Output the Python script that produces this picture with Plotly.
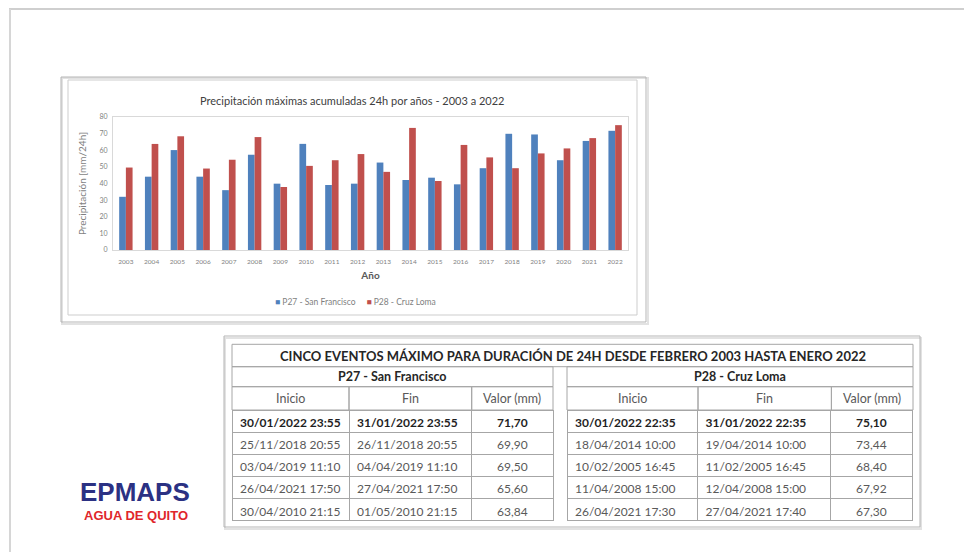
import plotly.graph_objects as go

# ---------------- data ----------------
years = ["2003", "2004", "2005", "2006", "2007", "2008", "2009", "2010", "2011", "2012",
         "2013", "2014", "2015", "2016", "2017", "2018", "2019", "2020", "2021", "2022"]
san_francisco = [32.0, 44.1, 60.1, 44.1, 36.0, 57.3, 39.9, 63.84, 39.1, 39.9,
                 52.6, 42.1, 43.5, 39.5, 49.2, 69.9, 69.5, 54.0, 65.6, 71.7]
cruz_loma = [49.6, 63.8, 68.4, 49.0, 54.3, 67.92, 37.9, 50.6, 54.0, 57.7,
             47.0, 73.44, 41.5, 63.2, 55.7, 49.2, 58.1, 61.1, 67.3, 75.1]
series_names = ["P27 - San Francisco", "P28 - Cruz Loma"]

chart_title = "Precipitación máximas acumuladas 24h por años - 2003 a 2022"
x_title = "Año"
y_title = "Precipitación [mm/24h]"

table_title = "CINCO EVENTOS MÁXIMO PARA DURACIÓN DE 24H DESDE FEBRERO 2003 HASTA ENERO 2022"
col_headers = ["Inicio", "Fin", "Valor (mm)"]
sf_inicio = ["30/01/2022 23:55", "25/11/2018 20:55", "03/04/2019 11:10", "26/04/2021 17:50", "30/04/2010 21:15"]
sf_fin = ["31/01/2022 23:55", "26/11/2018 20:55", "04/04/2019 11:10", "27/04/2021 17:50", "01/05/2010 21:15"]
sf_valor = ["71,70", "69,90", "69,50", "65,60", "63,84"]
cl_inicio = ["30/01/2022 22:35", "18/04/2014 10:00", "10/02/2005 16:45", "11/04/2008 15:00", "26/04/2021 17:30"]
cl_fin = ["31/01/2022 22:35", "19/04/2014 10:00", "11/02/2005 16:45", "12/04/2008 15:00", "27/04/2021 17:40"]
cl_valor = ["75,10", "73,44", "68,40", "67,92", "67,30"]

logo_main = "EPMAPS"
logo_sub = "AGUA DE QUITO"

# ---------------- styles ----------------
# page body has an 8px margin: figure occupies screen (8..972, 8..552)
OX, OY = 8, 8
W, H = 972 - OX, 552 - OY
FONT = "Lato"
colors = ["#4F81BD", "#C0504D"]
GRAY_TXT = "#595959"
LINE = "#A6A6A6"


def px(x):
    return (x - OX) / W


def py(y):
    return 1 - (y - OY) / H


fig = go.Figure()

# ---------------- bar chart ----------------
for name, vals, c in zip(series_names, [san_francisco, cruz_loma], colors):
    fig.add_trace(go.Bar(x=years, y=vals, name=name, marker=dict(color=c, line=dict(width=0)),
                         showlegend=False, xaxis="x", yaxis="y"))


# ---------------- shape / annotation helpers ----------------
def rect(x0, y0, x1, y1, color, width, layer="above"):
    return dict(type="rect", xref="paper", yref="paper", x0=px(x0), x1=px(x1), y0=py(y1), y1=py(y0),
                line=dict(color=color, width=width), fillcolor="rgba(0,0,0,0)", layer=layer)


def hline(x0, x1, y, color, width):
    return dict(type="line", xref="paper", yref="paper", x0=px(x0), x1=px(x1), y0=py(y), y1=py(y),
                line=dict(color=color, width=width))


def vline(x, y0, y1, color, width):
    return dict(type="line", xref="paper", yref="paper", x0=px(x), x1=px(x), y0=py(y0), y1=py(y1),
                line=dict(color=color, width=width))


def ann(text, x, y, size, color, family=FONT):
    return dict(text=text, x=px(x), y=py(y), xref="paper", yref="paper", showarrow=False,
                xanchor="center", yanchor="middle", font=dict(family=family, size=size, color=color))


shapes = [
    # slide frame
    hline(9, 980, 9, "#CFCFCF", 2),
    vline(10, 9, 552, "#D6D6D6", 2),
    # chart panel (shadow, outer frame, inner frame)
    rect(62, 78, 648, 324, "#E2E2E2", 2, "below"),
    rect(61, 77, 646, 322, "#B5B5B5", 1, "below"),
    rect(68, 80, 637, 315, "#CDCDCD", 1, "below"),
    # table panel
    rect(225, 338, 921, 529, "#E2E2E2", 2, "below"),
    rect(224, 336, 920, 527, "#B5B5B5", 1, "below"),
    # merged cells: title row and station rows
    rect(232, 344.3, 913, 366.7, LINE, 1),
    rect(232, 366.7, 553, 386.7, LINE, 1),
    rect(567, 366.7, 913, 386.7, LINE, 1),
]

annotations = [
    ann(chart_title, 352, 100.5, 11, "#404040"),
    ann("     ".join("<span style='color:%s'>■</span> %s" % (c, n) for c, n in zip(colors, series_names)),
        355, 302, 8.5, "#7F7F7F"),
    ann("<b>%s</b>" % table_title, 572.5, 355.5, 13, "#262626"),
    ann("<b>%s</b>" % series_names[0], 392.5, 376.7, 12.5, "#262626"),
    ann("<b>%s</b>" % series_names[1], 740, 376.7, 12.5, "#262626"),
    ann("<b>%s</b>" % logo_main, 135, 492, 26, "#2B3183", "Liberation Sans"),
    ann("<b>%s</b>" % logo_sub, 136, 515.5, 13, "#E0262B", "Liberation Sans"),
]


# ---------------- tables ----------------
def nb(v):
    # non-breaking spaces keep each date/time on one line
    return v.replace(" ", "\u00a0")


HDR_TOP, HDR_BOT = 386.7, 410.0


def bold_font(size, color):
    f = dict(family=FONT, size=size, color=color, weight="bold")
    try:
        go.table.Header(font=f)
    except Exception:
        f.pop("weight")
    return f


def station_table(cols, x0, widths):
    x1 = x0 + sum(widths)
    # column-header row (Inicio / Fin / Valor)
    xs = x0
    for label, w in zip(col_headers, widths):
        shapes.append(rect(xs, HDR_TOP, xs + w, HDR_BOT, LINE, 1))
        annotations.append(ann(label, xs + w / 2, (HDR_TOP + HDR_BOT) / 2 + 0.5, 12.5, GRAY_TXT))
        xs += w
    # first (maximum) event as bold table header row, remaining events as cells
    return go.Table(
        domain=dict(x=[px(x0), px(x1)], y=[py(526), py(HDR_BOT)]),
        columnwidth=widths,
        header=dict(values=[nb(c[0]) for c in cols], height=22,
                    align=["left", "left", "center"],
                    font=bold_font(12, "#1F1F1F"),
                    fill=dict(color="white"), line=dict(color=LINE, width=1)),
        cells=dict(values=[[nb(v) for v in c[1:]] for c in cols], height=22.2,
                   align=["left", "left", "center"],
                   font=dict(family=FONT, size=12, color=GRAY_TXT),
                   fill=dict(color="white"), line=dict(color=LINE, width=1)),
    )


fig.add_trace(station_table([sf_inicio, sf_fin, sf_valor], 232, [117, 122.7, 81.3]))
fig.add_trace(station_table([cl_inicio, cl_fin, cl_valor], 567, [131, 133.4, 81.6]))

fig.update_layout(
    width=W, height=H, margin=dict(l=0, r=0, t=0, b=0),
    paper_bgcolor="white", plot_bgcolor="white",
    barmode="group", bargap=0.48, bargroupgap=0.0,
    shapes=shapes, annotations=annotations, showlegend=False,
    xaxis=dict(domain=[px(113), px(628)], anchor="y", type="category", showgrid=False,
               showline=True, mirror=True, linecolor="#D9D9D9", linewidth=1,
               ticks="outside", ticklen=5, tickcolor="rgba(0,0,0,0)",
               tickfont=dict(family=FONT, size=6.5, color="#7F7F7F"), automargin=False,
               title=dict(text="<b>%s</b>" % x_title, standoff=8,
                          font=dict(family=FONT, size=10, color=GRAY_TXT))),
    yaxis=dict(domain=[py(250), py(117)], anchor="x", range=[0, 80], dtick=10, showgrid=False,
               showline=True, mirror=True, linecolor="#D9D9D9", linewidth=1,
               ticks="outside", ticklen=3, tickcolor="rgba(0,0,0,0)",
               zeroline=False, tickfont=dict(family=FONT, size=7, color="#7F7F7F"), automargin=False,
               title=dict(text=y_title, standoff=10, font=dict(family=FONT, size=10, color="#7F7F7F"))),
)

fig.write_html("out.html")
